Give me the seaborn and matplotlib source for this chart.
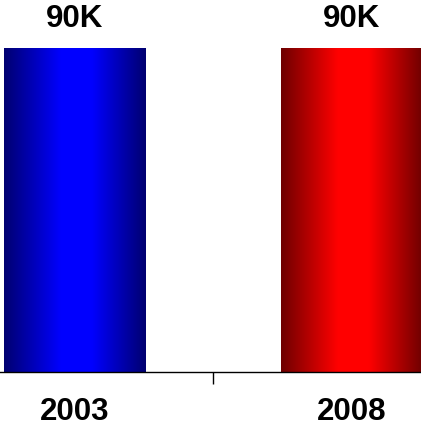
import numpy as np
import pandas as pd
import matplotlib
matplotlib.use("Agg")
import matplotlib.pyplot as plt
import seaborn as sns
from matplotlib.colors import LinearSegmentedColormap

years = ["2003", "2008"]
values = [90000, 90000]
value_labels = ["90K", "90K"]
bright = ["#0000ff", "#ff0000"]
dark = ["#000070", "#6e0000"]

sns.set_theme(style="white")
plt.rcParams["font.family"] = ["Liberation Sans", "DejaVu Sans"]
plt.rcParams["text.color"] = "black"
plt.rcParams["xtick.color"] = "black"

df = pd.DataFrame({"year": years, "value": values})

fig = plt.figure(figsize=(4.21, 4.26), dpi=100)
ax = fig.add_axes([0.0, 54 / 426, 1.0, 372 / 426])

sns.barplot(data=df, x="year", y="value", ax=ax, width=0.51,
            color="white", saturation=1, errorbar=None)

# horizontal gradient fill (dark edges, bright centre) clipped to each bar
for patch, c_bright, c_dark, lab in zip(ax.patches, bright, dark, value_labels):
    x0, y0 = patch.get_x(), patch.get_y()
    w, h = patch.get_width(), patch.get_height()
    cmap = LinearSegmentedColormap.from_list(
        "g", [(0.0, c_dark), (0.4, c_bright), (0.62, c_bright), (1.0, c_dark)])
    grad = np.linspace(0, 1, 256).reshape(1, -1)
    im = ax.imshow(grad, cmap=cmap, aspect="auto", interpolation="bilinear",
                   extent=(x0, x0 + w, y0, y0 + h), zorder=patch.get_zorder() + 0.1)
    im.set_clip_path(patch)
    patch.set_edgecolor("none")
    ax.annotate(lab, (x0 + w / 2, y0 + h), xytext=(0, 10), textcoords="offset points",
                ha="center", va="bottom", fontsize=22.5, fontweight="bold", color="black")

ax.set_xlim(-0.269, 1.251)
ax.set_ylim(0, 90000 * 372 / 324)

ax.set_xlabel("")
ax.set_ylabel("")
ax.set_yticks([])
for side in ["top", "right", "left"]:
    ax.spines[side].set_visible(False)
ax.spines["bottom"].set_color("black")
ax.spines["bottom"].set_linewidth(1.0)

ax.tick_params(axis="x", which="major", length=0, pad=18, labelsize=22.5, labelcolor="black")
for t in ax.get_xticklabels():
    t.set_fontweight("bold")
ax.set_xticks([0.5], minor=True)
ax.tick_params(axis="x", which="minor", bottom=True, length=8.5, width=1.0, color="black")

fig.savefig("out.png", dpi=100)
